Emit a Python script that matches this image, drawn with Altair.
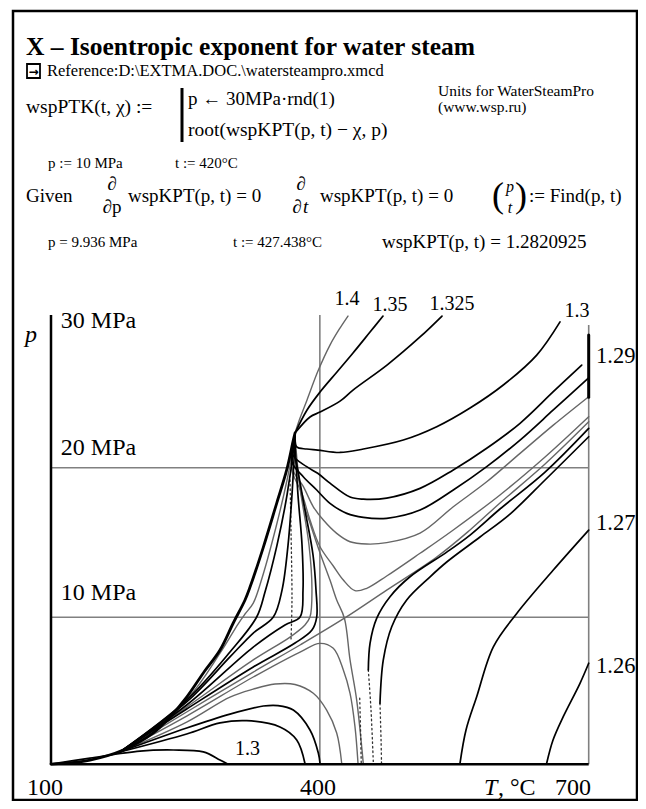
import altair as alt
import pandas as pd

# ---------------- axis ranges ----------------
T_MIN, T_MAX = 100, 700          # °C
P_MIN, P_MAX = 0.174, 30.21      # MPa
GRID_P = [10, 20]                # horizontal markers, MPa
GRID_T = [400]                   # vertical marker, °C
EDGE_P_TOP = 29.54               # top of grey line at 700 °C

# ---------------- contour lines (T °C, p MPa) ----------------
sat_T = [100, 143.5, 180.7, 214.2, 232.8, 251.4, 270, 288.6, 303.4, 316.5, 322.1, 336.9, 351.9, 363, 370.4, 372.3]
sat_p = [0.19, 0.46, 1.13, 2.27, 3.34, 4.67, 6.28, 7.81, 9.62, 11.16, 12.02, 14.68, 17.64, 19.85, 21.85, 22.32]

L1_T = [177, 251.4, 288.6, 308.7, 316.5, 325.7, 335.5, 351.1, 363.4, 371.2, 372.3]
L1_p = [1.0, 4.5, 7.6, 9.55, 10.22, 10.95, 12.63, 16.04, 19.18, 21.72, 22.32]
L2_T = [177, 251.4, 299.7, 329.5, 338.8, 352.2, 363.4, 371.2, 372.3]
L2_p = [1.0, 4.47, 7.68, 10.02, 11.69, 14.83, 18.18, 21.52, 22.32]
L3_T = [177, 251.4, 299.7, 325.7, 348.1, 357.8, 364.5, 368.9, 372.3]
L3_p = [1.0, 4.34, 7.35, 8.95, 10.02, 11.82, 14.83, 18.18, 21.85]
L4_T = [177, 251.4, 325.7, 361.1, 377.9, 381.2, 380.1, 375.6, 372.3]
L4_p = [1.0, 4.14, 8.01, 9.49, 10.02, 11.82, 14.83, 18.18, 21.52]
L5_T = [177, 251.4, 325.7, 366.7, 383.4, 389, 391.2, 387.9, 379, 372.3]
L5_p = [1.0, 4.0, 7.15, 8.68, 9.49, 10.02, 11.82, 14.83, 18.18, 21.05]
L6_T = [177, 251.4, 325.7, 372.3, 391.2, 396.5, 395.7, 392.4, 383.4, 373.4]
L6_p = [1.0, 3.87, 6.68, 8.28, 9.15, 10.02, 11.82, 14.16, 17.17, 20.51]

S1_T = [177, 251.4, 325.7, 377.9, 427.4, 474.6, 530.4, 567.6, 601, 651.3, 700]
S1_p = [1.0, 3.67, 6.34, 8.15, 9.94, 11.82, 14.03, 15.84, 17.64, 20.25, 23.07]
S2_T = [372.3, 379.8, 389, 400.2, 411.3, 418.8, 427.4, 433.7, 441.1, 446.7, 448.5]
S2_p = [22.1, 18.06, 16.3, 14.3, 12.49, 11.16, 9.94, 7.15, 4.47, 1.35, 0.19]

e_T = [177, 251.4, 325.7, 377.9, 400.2, 415, 426.2, 433.7, 439.2, 442.6]
e_p = [1.0, 3.4, 6.01, 7.68, 8.26, 7.93, 6.48, 4.92, 2.69, 0.23]
f_T = [177, 251.4, 299.7, 325.7, 350, 372.3, 392.7, 407.6, 418.8, 424.4]
f_p = [1.0, 3.0, 4.67, 5.2, 5.54, 5.51, 4.92, 3.8, 2.27, 0.23]
g_T = [177, 251.4, 299.7, 336.9, 353.3, 370.4, 389, 398.3, 400.2]
g_p = [1.0, 2.6, 3.53, 4.07, 4.1, 3.8, 2.47, 0.93, 0.23]
h_T = [177, 251.4, 288.6, 318.4, 355.5, 374.2, 383.4]
h_p = [1.0, 2.2, 2.94, 3.09, 2.67, 1.8, 0.23]
i_T = [100, 143.5, 199.3, 236.5, 270, 288.6, 296.1]
i_p = [0.19, 0.59, 1.06, 1.13, 1.0, 0.46, 0.23]

U1_T = [372.3, 377.9, 385.7, 397.9, 411.3, 422.5, 431.4]
U1_p = [22.32, 23.32, 24.53, 26.46, 28.2, 29.34, 30.14]
U2_T = [372.3, 385.7, 400.2, 419.1, 437.0, 456.0, 470.5]
U2_p = [22.32, 23.86, 25.06, 26.4, 27.67, 29.07, 30.14]
U3_T = [372.3, 389, 400.2, 422.5, 437, 474.9, 511.8, 536.3]
U3_p = [22.32, 23.39, 23.72, 24.45, 25.19, 26.86, 28.74, 30.14]
U4_T = [372.3, 374.2, 385.3, 397.6, 422.5, 448.5, 493.1, 530.4, 567.6, 604.7, 642, 668]
U4_p = [22.12, 21.39, 21.25, 21.18, 21.02, 21.25, 21.85, 22.74, 23.99, 25.53, 27.53, 29.75]
U5_T = [372.3, 370, 385.3, 397.6, 411.3, 433.7, 448.5, 474.6, 511.8, 548.9, 586.2, 623.4, 660.5, 692.2]
U5_p = [22.2, 20.85, 20.07, 19.63, 18.97, 18.04, 17.9, 17.97, 18.62, 19.85, 21.3, 22.97, 25.08, 26.86]
U6_T = [372.3, 368.9, 381.5, 396.5, 411.3, 430, 448.5, 474.6, 511.8, 548.9, 586.2, 623.4, 660.5, 699.6]
U6_p = [22.2, 20.38, 19.4, 18.51, 17.62, 16.95, 16.68, 16.62, 17.17, 18.51, 20.07, 21.85, 23.86, 25.99]
U7_T = [372.3, 368.9, 381.5, 392.7, 403.9, 418.8, 433.7, 452.3, 474.6, 511.8, 548.9, 586.2, 623.4, 660.5, 700]
U7_p = [22.1, 20.0, 18.75, 17.39, 16.5, 15.61, 15.05, 14.9, 14.99, 15.63, 17.39, 19.06, 20.96, 22.85, 24.75]
H_T = [372.3, 368.9, 379.8, 389, 400.2, 415, 426.2, 439.2, 452.3, 474.6, 511.8, 548.9, 601, 651.3, 700]
H_p = [22.0, 19.85, 18.31, 16.51, 14.72, 13.43, 12.49, 11.78, 11.94, 12.76, 14.28, 15.84, 18.18, 20.72, 23.41]

R1_T = [454.1, 456, 463.4, 478.3, 500.6, 541.6, 567.6, 601, 651.3, 700]
R1_p = [6.48, 8.26, 9.93, 11.38, 12.71, 14.36, 15.5, 17.24, 19.71, 22.63]
R2_T = [467.1, 470.8, 480.2, 496.9, 523, 541.6, 578.7, 612.2, 651.3, 700]
R2_p = [4.25, 7.15, 9.37, 11.16, 12.71, 13.7, 15.37, 16.9, 19.18, 22.07]
R3_T = [556.4, 563.1, 575, 593.6, 619.7, 660.5, 700]
R3_p = [0.24, 2.47, 4.69, 8.03, 10.26, 13.16, 15.83]
R4_T = [653.1, 660.2, 671.6, 690.3, 700]
R4_p = [0.24, 1.8, 3.36, 5.59, 6.93]

R1d_T = [454.1, 457.1, 459.7]
R1d_p = [6.48, 3.8, 0.23]
R2d_T = [467.1, 468.3, 468.8]
R2d_p = [4.25, 1.8, 0.23]
D1_T = [366.7, 367.8, 368.9, 367.8]
D1_p = [19.18, 15.84, 11.16, 8.48]
D2_T = [444.5, 445.5, 446.2]
D2_p = [4.6, 2.2, 0.23]

V_T = [700, 700]
V_p = [24.71, 28.87]

curves = [
    ("sat", sat_T, sat_p, "sat"),
    ("L1", L1_T, L1_p, "gray"), ("L2", L2_T, L2_p, "black"), ("L3", L3_T, L3_p, "black"),
    ("L4", L4_T, L4_p, "black"), ("L5", L5_T, L5_p, "gray"), ("L6", L6_T, L6_p, "black"),
    ("S1", S1_T, S1_p, "gray"), ("S2", S2_T, S2_p, "gray"),
    ("e", e_T, e_p, "gray"), ("f", f_T, f_p, "gray"), ("g", g_T, g_p, "black"),
    ("h", h_T, h_p, "black"), ("i", i_T, i_p, "black"),
    ("U1", U1_T, U1_p, "gray"), ("U2", U2_T, U2_p, "black"), ("U3", U3_T, U3_p, "black"),
    ("U4", U4_T, U4_p, "black"), ("U5", U5_T, U5_p, "black"), ("U6", U6_T, U6_p, "black"),
    ("U7", U7_T, U7_p, "gray"), ("H", H_T, H_p, "gray"),
    ("R1", R1_T, R1_p, "black"), ("R2", R2_T, R2_p, "black"),
    ("R3", R3_T, R3_p, "black"), ("R4", R4_T, R4_p, "black"),
    ("R1d", R1d_T, R1d_p, "dot"), ("R2d", R2d_T, R2d_p, "dot"), ("D1", D1_T, D1_p, "dot"),
    ("D2", D2_T, D2_p, "dot"),
    ("V", V_T, V_p, "vseg"),
]

rows = []
for name, Ts, ps, style in curves:
    for k, (t, p) in enumerate(zip(Ts, ps)):
        rows.append({"curve": name, "T": t, "p": p, "i": k, "style": style})
df = pd.DataFrame(rows)

# ---------------- labels inside the plot ----------------
lab_small_text = ["1.4", "1.35", "1.325", "1.3", "1.3"]
lab_small_T = [430.3, 478.3, 547.5, 687, 319.3]
lab_small_p = [30.88, 30.47, 30.54, 30.07, 0.8]
lab_big_text = ["1.29", "1.27", "1.26"]
lab_big_T = [708.2, 708.2, 708.2]
lab_big_p = [26.99, 15.84, 6.26]
mpa_text = ["30 MPa", "20 MPa", "10 MPa"]
mpa_T = [111, 111, 111]
mpa_p = [29.34, 20.85, 11.16]

SERIF = "Liberation Serif"
W, H = 630, 793
OFF = 8  # page margin

xscale = alt.Scale(domain=[T_MIN, T_MAX], range=[43, 580.7], nice=False, zero=False)
yscale = alt.Scale(domain=[P_MIN, P_MAX], range=[756.3, 307], nice=False, zero=False)


def X(f):
    return alt.X(f"{f}:Q", scale=xscale, axis=None)


def Y(f):
    return alt.Y(f"{f}:Q", scale=yscale, axis=None)


one = pd.DataFrame({"k": [0]})


def txt(s, x, y, size=19, weight="normal", style="normal", align="left", font=SERIF):
    return alt.Chart(one).mark_text(
        text=s, align=align, baseline="alphabetic", fontSize=size, fontWeight=weight,
        fontStyle=style, font=font, color="black"
    ).encode(x=alt.value(x - OFF), y=alt.value(y - OFF))


layers = []

# border
layers.append(alt.Chart(one).mark_rect(filled=False, stroke="black", strokeWidth=2.5).encode(
    x=alt.value(13 - OFF), x2=alt.value(637 - OFF), y=alt.value(11 - OFF), y2=alt.value(800 - OFF)))

# header
layers.append(txt("X – Isoentropic exponent for water steam", 26, 55, 25.5, weight="bold"))
layers.append(alt.Chart(one).mark_rect(filled=False, stroke="black", strokeWidth=1.8).encode(
    x=alt.value(27 - OFF), x2=alt.value(40 - OFF), y=alt.value(64 - OFF), y2=alt.value(78 - OFF)))
layers.append(txt("→", 33.5, 75.5, 12, weight="bold", align="center", font="DejaVu Sans"))
layers.append(txt("Reference:D:\\EXTMA.DOC.\\watersteampro.xmcd", 47, 76, 16.5))
layers.append(txt("wspPTK(t, χ) :=", 26, 113, 19.5))
layers.append(alt.Chart(one).mark_rule(color="black", strokeWidth=3).encode(
    x=alt.value(182 - OFF), y=alt.value(88 - OFF), y2=alt.value(142 - OFF)))
layers.append(txt("p ← 30MPa·rnd(1)", 188, 105, 19))
layers.append(txt("root(wspKPT(p, t) − χ, p)", 188, 136, 19.5))
layers.append(txt("Units for WaterSteamPro", 438, 96, 15.5))
layers.append(txt("(www.wsp.ru)", 438, 112, 15.5))
layers.append(txt("p := 10 MPa", 48, 168, 15))
layers.append(txt("t := 420°C", 175, 168, 15))
layers.append(txt("Given", 26, 202, 19))
layers.append(txt("∂", 112, 190, 19, align="center"))
layers.append(txt("∂p", 112, 213, 19, align="center"))
layers.append(txt("wspKPT(p, t) = 0", 128, 202, 19))
layers.append(txt("∂", 301, 190, 19, align="center"))
layers.append(txt("∂", 297, 213, 19, align="center"))
layers.append(txt("t", 303, 213, 19, style="italic"))
layers.append(txt("wspKPT(p, t) = 0", 320, 202, 19))
layers.append(txt("(", 492, 207, 36))
layers.append(txt(")", 515, 207, 36))
layers.append(txt("p", 510, 192, 16, style="italic", align="center"))
layers.append(txt("t", 510, 213, 16, style="italic", align="center"))
layers.append(txt(":= Find(p, t)", 529, 202, 19))
layers.append(txt("p = 9.936 MPa", 48, 247, 15))
layers.append(txt("t := 427.438°C", 233, 247, 15))
layers.append(txt("wspKPT(p, t) = 1.2820925", 382, 248, 19))

# grid markers
grid_h = pd.DataFrame({"p": GRID_P, "T0": [T_MIN] * len(GRID_P), "T1": [T_MAX] * len(GRID_P)})
layers.append(alt.Chart(grid_h).mark_rule(color="#808080", strokeWidth=1.6).encode(
    x=X("T0"), x2="T1", y=Y("p")))
grid_v = pd.DataFrame({"T": GRID_T + [T_MAX], "p0": [P_MIN, P_MIN], "p1": [P_MAX, EDGE_P_TOP]})
layers.append(alt.Chart(grid_v).mark_rule(color="#808080", strokeWidth=1.6).encode(
    x=X("T"), y=Y("p0"), y2="p1"))


# contour lines
def lines(style, color, width, dash=None):
    kw = dict(color=color, strokeWidth=width, interpolate="catmull-rom",
              strokeJoin="round", strokeCap="round")
    if dash:
        kw["strokeDash"] = dash
    return alt.Chart(df[df["style"] == style]).mark_line(**kw).encode(
        x=X("T"), y=Y("p"), detail="curve:N", order="i:Q")


layers.append(lines("gray", "#666666", 1.4))
layers.append(lines("dot", "#333333", 1.3, [1.5, 3]))
layers.append(lines("black", "#000000", 1.7))
layers.append(lines("sat", "#000000", 2.8))
layers.append(lines("vseg", "#000000", 3.0))

# axes lines
ax_left = pd.DataFrame({"T": [T_MIN], "p0": [P_MIN], "p1": [P_MAX]})
layers.append(alt.Chart(ax_left).mark_rule(color="black", strokeWidth=2.5).encode(
    x=X("T"), y=Y("p0"), y2="p1"))
ax_bot = pd.DataFrame({"p": [P_MIN], "T0": [T_MIN], "T1": [T_MAX]})
layers.append(alt.Chart(ax_bot).mark_rule(color="black", strokeWidth=2.5).encode(
    x=X("T0"), x2="T1", y=Y("p")))

# in-plot labels
lab_s = pd.DataFrame({"t": lab_small_text, "T": lab_small_T, "p": lab_small_p})
layers.append(alt.Chart(lab_s).mark_text(font=SERIF, fontSize=20, baseline="alphabetic",
                                         align="center", color="black").encode(
    x=X("T"), y=Y("p"), text="t:N"))
lab_b = pd.DataFrame({"t": lab_big_text, "T": lab_big_T, "p": lab_big_p})
layers.append(alt.Chart(lab_b).mark_text(font=SERIF, fontSize=22.5, baseline="alphabetic",
                                         align="left", color="black").encode(
    x=X("T"), y=Y("p"), text="t:N"))
lab_m = pd.DataFrame({"t": mpa_text, "T": mpa_T, "p": mpa_p})
layers.append(alt.Chart(lab_m).mark_text(font=SERIF, fontSize=24, baseline="alphabetic",
                                         align="left", color="black").encode(
    x=X("T"), y=Y("p"), text="t:N"))

# axis tick labels / titles
layers.append(txt("p", 25, 342, 24, style="italic"))
layers.append(txt("100", 45, 795, 24, align="center"))
layers.append(txt("400", 318, 795, 24, align="center"))
layers.append(txt("T", 484, 795, 24, style="italic"))
layers.append(txt(", °C", 498, 795, 24))
layers.append(txt("700", 573, 795, 24, align="center"))

chart = alt.layer(*layers).properties(
    width=W, height=H, padding=0, background="white",
    autosize=alt.AutoSizeParams(type="none"),
).configure_view(stroke=None)

chart.save("out.html", embed_options={"renderer": "svg", "actions": False})
